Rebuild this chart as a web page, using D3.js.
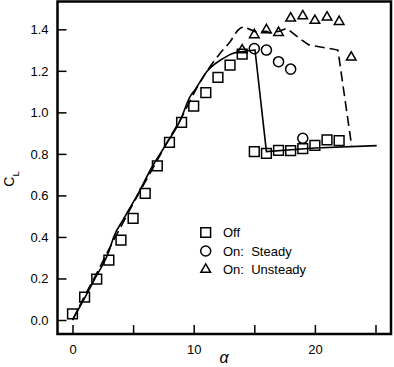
<!DOCTYPE html>
<html><head><meta charset="utf-8">
<script src="https://cdn.jsdelivr.net/npm/d3@7"></script>
<style>body{margin:0;background:#fff}svg{display:block}text{font-family:"Liberation Sans",Arial,sans-serif;fill:#000}</style>
</head><body><svg id="c" width="394" height="367"></svg>
<script>
// Data
const offAlpha = [0,1,2,3,4,5,6,7,8,9,10,11,12,13,14,15,16,17,18,19,20,21,22];
const offCL    = [0.03,0.11,0.197,0.288,0.385,0.49,0.61,0.742,0.856,0.952,1.03,1.095,1.169,1.228,1.281,0.811,0.803,0.817,0.816,0.825,0.841,0.867,0.864];
const steadyAlpha = [15,16,17,18,19];
const steadyCL    = [1.307,1.30,1.244,1.208,0.875];
const unsteadyAlpha = [14,15,16,17,18,19,20,21,22,23];
const unsteadyCL    = [1.30,1.373,1.397,1.384,1.453,1.464,1.442,1.458,1.437,1.265];
// computed curves (smooth part up to the stall point, then straight segments)
const solidAlpha = [0,1,1.86,3,3.4,4.25,5.57,6.4,7.6,8.9,9.7,10.1,11.07,12.44,13.27,14.1,15.06,16.0,20,25.1];
const solidCL    = [0,0.105,0.2,0.33,0.40,0.49,0.626,0.72,0.835,0.963,1.076,1.108,1.196,1.26,1.285,1.293,1.30,0.811,0.828,0.84];
const solidStall = 16; // index of last smooth point
const dashAlpha = [0,1,2,3,4,5,6,7,8,9,10,11.07,12.17,13,13.68,14.1,15.06,16,16.3,17,17.67,18.9,19.5,21.9,23.04];
const dashCL    = [0,0.115,0.225,0.34,0.45,0.56,0.665,0.77,0.875,0.975,1.09,1.196,1.284,1.34,1.397,1.413,1.389,1.39,1.383,1.39,1.405,1.349,1.325,1.30,0.835];
const dashStall = 15;
const xTicks = [0,5,10,15,20,25];
const xTickLabels = ["0","","10","","20",""];
const yTicks = [0,0.2,0.4,0.6,0.8,1.0,1.2,1.4];
const legendLabels = ["Off","On:  Steady","On:  Unsteady"];

const svg = d3.select("#c");
const x = d3.scaleLinear().domain([0,25]).range([72.5,375.5]);
const y = d3.scaleLinear().domain([0,1.4]).range([320,29.3]);
const L = 57.5, R = 391, T = 1.5, B = 334;

// ticks (inside)
const xAxis = d3.axisBottom(x).tickValues(xTicks).tickSize(0).tickFormat((d,i)=>xTickLabels[i]).tickPadding(11);
const gx = svg.append("g").attr("transform",`translate(0,${B})`).call(xAxis);
gx.select(".domain").remove();
gx.selectAll("text").style("font-size","13px").attr("font-family",null);
gx.selectAll(".tick").append("line").attr("y1",0).attr("y2",-9).attr("stroke","#000").attr("stroke-width",1.5);

const yAxis = d3.axisLeft(y).tickValues(yTicks).tickSize(0).tickFormat(d3.format(".1f")).tickPadding(9);
const gy = svg.append("g").attr("transform",`translate(${L},0)`).call(yAxis);
gy.select(".domain").remove();
gy.selectAll("text").style("font-size","13px").attr("font-family",null);
gy.selectAll(".tick").append("line").attr("x1",0).attr("x2",9).attr("stroke","#000").attr("stroke-width",1.5);

// frame
svg.append("rect").attr("x",L).attr("y",T).attr("width",R-L).attr("height",B-T)
  .attr("fill","none").attr("stroke","#000").attr("stroke-width",2.5);

// lines
const smooth = d3.line().x(d=>x(d[0])).y(d=>y(d[1])).curve(d3.curveMonotoneX);
const straight = d3.line().x(d=>x(d[0])).y(d=>y(d[1]));
function drawCurve(ax, cl, k, dash){
  const pts = ax.map((a,i)=>[a,cl[i]]);
  const d = smooth(pts.slice(0,k+1)) + straight(pts.slice(k)).replace(/^M/,"L");
  const p = svg.append("path").attr("d",d).attr("fill","none").attr("stroke","#000").attr("stroke-width",1.6);
  if (dash) p.attr("stroke-dasharray","10,5");
}
drawCurve(solidAlpha, solidCL, solidStall, false);
drawCurve(dashAlpha, dashCL, dashStall, true);

// markers
const sq = d3.symbol().type(d3.symbolSquare).size(95);
const ci = d3.symbol().type(d3.symbolCircle).size(80);
const tr = d3.symbol().type(d3.symbolTriangle).size(40);
function markers(ax, cl, sym){
  svg.append("g").selectAll("path").data(ax.map((a,i)=>[a,cl[i]])).join("path")
    .attr("d",sym).attr("transform",d=>`translate(${x(d[0])},${y(d[1])})`)
    .attr("fill","none").attr("stroke","#000").attr("stroke-width",1.5);
}
markers(offAlpha, offCL, sq);
markers(steadyAlpha, steadyCL, ci);
markers(unsteadyAlpha, unsteadyCL, tr);

// legend
const syms = [sq, ci, tr];
const lg = svg.append("g");
legendLabels.forEach((t,i)=>{
  const yy = 232.5 + i*18.5;
  lg.append("path").attr("d",syms[i]).attr("transform",`translate(205.7,${yy})`)
    .attr("fill","none").attr("stroke","#000").attr("stroke-width",1.5);
  lg.append("text").attr("x",223).attr("y",yy+4.5).style("font-size","13px").style("white-space","pre").attr("xml:space","preserve").text(t);
});

// axis titles
svg.append("text").attr("x",224).attr("y",363).attr("text-anchor","middle")
  .style("font-size","16px").style("font-style","italic").text("α");
const yt = svg.append("text").attr("transform","translate(14,179) rotate(-90)").attr("text-anchor","middle").style("font-size","14px");
yt.append("tspan").text("C");
yt.append("tspan").attr("dy",5).style("font-size","9.5px").text("L");
</script></body></html>
